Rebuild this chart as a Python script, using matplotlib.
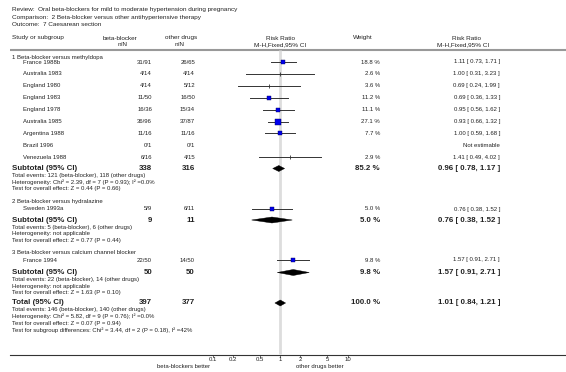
import numpy as np
import matplotlib
matplotlib.use("Agg")
import matplotlib.pyplot as plt
from matplotlib.patches import Polygon

# ---------------- data ----------------
review = "Review:  Oral beta-blockers for mild to moderate hypertension during pregnancy"
comparison = "Comparison:  2 Beta-blocker versus other antihypertensive therapy"
outcome = "Outcome:  7 Caesarean section"

group_titles = ["1 Beta-blocker versus methyldopa",
                "2 Beta-blocker versus hydralazine",
                "3 Beta-blocker versus calcium channel blocker"]

g1_studies = ["France 1988b", "Australia 1983", "England 1980", "England 1983",
              "England 1978", "Australia 1985", "Argentina 1988", "Brazil 1996", "Venezuela 1988"]
g1_bb = ["31/91", "4/14", "4/14", "11/50", "16/36", "36/96", "11/16", "0/1", "6/16"]
g1_oth = ["26/65", "4/14", "5/12", "16/50", "15/34", "37/87", "11/16", "0/1", "4/15"]
g1_rr = [1.11, 1.00, 0.69, 0.69, 0.95, 0.93, 1.00, np.nan, 1.41]
g1_lo = [0.73, 0.31, 0.24, 0.36, 0.56, 0.66, 0.59, np.nan, 0.49]
g1_hi = [1.71, 3.23, 1.99, 1.33, 1.62, 1.32, 1.68, np.nan, 4.02]
g1_w = [18.8, 2.6, 3.6, 11.2, 11.1, 27.1, 7.7, np.nan, 2.9]

g2_studies = ["Sweden 1993a"]
g2_bb = ["5/9"]
g2_oth = ["6/11"]
g2_rr = [0.76]
g2_lo = [0.38]
g2_hi = [1.52]
g2_w = [5.0]

g3_studies = ["France 1994"]
g3_bb = ["22/50"]
g3_oth = ["14/50"]
g3_rr = [1.57]
g3_lo = [0.91]
g3_hi = [2.71]
g3_w = [9.8]

sub_n_bb = [338, 9, 50]
sub_n_oth = [316, 11, 50]
sub_w = [85.2, 5.0, 9.8]
sub_rr = [0.96, 0.76, 1.57]
sub_lo = [0.78, 0.38, 0.91]
sub_hi = [1.17, 1.52, 2.71]
sub_notes = [
    ["Total events: 121 (beta-blocker), 118 (other drugs)",
     "Heterogeneity: Chi\u00b2 = 2.39, df = 7 (P = 0.93); I\u00b2 =0.0%",
     "Test for overall effect: Z = 0.44 (P = 0.66)"],
    ["Total events: 5 (beta-blocker), 6 (other drugs)",
     "Heterogeneity: not applicable",
     "Test for overall effect: Z = 0.77 (P = 0.44)"],
    ["Total events: 22 (beta-blocker), 14 (other drugs)",
     "Heterogeneity: not applicable",
     "Test for overall effect: Z = 1.63 (P = 0.10)"],
]

tot_n_bb = 397
tot_n_oth = 377
tot_w = 100.0
tot_rr = 1.01
tot_lo = 0.84
tot_hi = 1.21
tot_notes = ["Total events: 146 (beta-blocker), 140 (other drugs)",
             "Heterogeneity: Chi\u00b2 = 5.82, df = 9 (P = 0.76); I\u00b2 =0.0%",
             "Test for overall effect: Z = 0.07 (P = 0.94)",
             "Test for subgroup differences: Chi\u00b2 = 3.44, df = 2 (P = 0.18), I\u00b2 =42%"]

tick_vals = [0.1, 0.2, 0.5, 1, 2, 5, 10]
tick_labels = ["0.1", "0.2", "0.5", "1", "2", "5", "10"]
left_label = "beta-blockers better"
right_label = "other drugs better"

# ---------------- layout ----------------
W, H = 566, 372
fig = plt.figure(figsize=(W / 100, H / 100), dpi=100)
ax = fig.add_axes([0, 0, 1, 1])
ax.set_xlim(0, W)
ax.set_ylim(H, 0)
ax.axis("off")

# forest axes: x=1 at pixel 280, one decade = 67.5 px
fx0, fx1 = 180, 380
dec = 67.5
axf = fig.add_axes([fx0 / W, 0, (fx1 - fx0) / W, 1])
axf.set_xscale("log")
axf.set_xlim(10 ** ((fx0 - 280) / dec), 10 ** ((fx1 - 280) / dec))
axf.set_ylim(H, 0)
axf.axis("off")

FS = 4.3
FSB = 5.7
col = "#222222"
fam = "Liberation Sans"

def t(x, y, s, ha="left", fs=FS, bold=False, c=col):
    ax.text(x, y, s, ha=ha, va="center", fontsize=fs, color=c, family=fam,
            fontweight="bold" if bold else "normal")

t(12, 10, review, fs=4.6)
t(12, 17, comparison, fs=4.6)
t(12, 24, outcome, fs=4.6)

# headers
t(12, 38, "Study or subgroup", fs=4.6)
t(120, 38, "beta-blocker", ha="center", fs=4.6)
t(123, 45, "n/N", ha="center", fs=4.6)
t(181, 38, "other drugs", ha="center", fs=4.6)
t(180, 45, "n/N", ha="center", fs=4.6)
t(280, 38, "Risk Ratio", ha="center", fs=4.6)
t(280, 45, "M-H,Fixed,95% CI", ha="center", fs=4.6)
t(363, 38, "Weight", ha="center", fs=4.6)
t(466, 38, "Risk Ratio", ha="center", fs=4.6)
t(463, 45, "M-H,Fixed,95% CI", ha="center", fs=4.6)
ax.plot([10, W], [49.5, 49.5], color="#999999", lw=1.5, solid_capstyle="butt")

# vertical line at 1
axf.plot([1, 1], [50, 354], color="#dddddd", lw=2.0, zorder=0, solid_capstyle="butt")

XBB, XOTH, XW, XRR = 152, 195, 380, 500

def fmt_ci(r, lo, hi):
    return f"{r:.2f} [ {lo:.2f}, {hi:.2f} ]"

def study_row(y, name, bb, oth, rr, lo, hi, w):
    t(23, y, name)
    t(XBB, y, bb, ha="right")
    t(XOTH, y, oth, ha="right")
    if np.isnan(rr):
        t(XRR, y, "Not estimable", ha="right")
        return
    t(XW, y, f"{w:.1f} %", ha="right")
    t(XRR, y, fmt_ci(rr, lo, hi), ha="right")
    axf.plot([lo, hi], [y, y], color="#333333", lw=0.7, zorder=2)
    if w >= 4:
        size = max(0.83 * np.sqrt(w), 2.5)  # points
        axf.plot([rr], [y], marker="s", ms=size, mfc="#0000ee", mec="#000055",
                 mew=0.3, zorder=3)
    else:
        axf.plot([rr], [y], marker="|", ms=2.2, mec="#333333", mew=0.6, zorder=3)

def diamond(y, rr, lo, hi, h=3.0):
    poly = Polygon([[lo, y], [rr, y - h], [hi, y], [rr, y + h]], closed=True,
                   fc="black", ec="black", lw=0.3, zorder=3)
    axf.add_patch(poly)

def subtotal(y, label, nb, no, w, rr, lo, hi, notes):
    t(12, y, label, fs=FSB, bold=True)
    t(XBB, y, str(nb), ha="right", fs=FSB, bold=True)
    t(XOTH, y, str(no), ha="right", fs=FSB, bold=True)
    t(XW, y, f"{w:.1f} %", ha="right", fs=FSB, bold=True)
    t(XRR, y, fmt_ci(rr, lo, hi), ha="right", fs=FSB, bold=True)
    diamond(y, rr, lo, hi)
    for i, s in enumerate(notes):
        t(12, y + 7 + 6.6 * i, s)

# group 1
t(12, 57, group_titles[0])
y0 = 62
for i in range(len(g1_studies)):
    study_row(y0 + 11.9 * i, g1_studies[i], g1_bb[i], g1_oth[i],
              g1_rr[i], g1_lo[i], g1_hi[i], g1_w[i])
subtotal(168.5, "Subtotal (95% CI)", sub_n_bb[0], sub_n_oth[0], sub_w[0],
         sub_rr[0], sub_lo[0], sub_hi[0], sub_notes[0])

# group 2
t(12, 202, group_titles[1])
study_row(209, g2_studies[0], g2_bb[0], g2_oth[0], g2_rr[0], g2_lo[0], g2_hi[0], g2_w[0])
subtotal(220, "Subtotal (95% CI)", sub_n_bb[1], sub_n_oth[1], sub_w[1],
         sub_rr[1], sub_lo[1], sub_hi[1], sub_notes[1])

# group 3
t(12, 253, group_titles[2])
study_row(260, g3_studies[0], g3_bb[0], g3_oth[0], g3_rr[0], g3_lo[0], g3_hi[0], g3_w[0])
subtotal(272.5, "Subtotal (95% CI)", sub_n_bb[2], sub_n_oth[2], sub_w[2],
         sub_rr[2], sub_lo[2], sub_hi[2], sub_notes[2])

# total
subtotal(303, "Total (95% CI)", tot_n_bb, tot_n_oth, tot_w,
         tot_rr, tot_lo, tot_hi, tot_notes)

# bottom axis
ax.plot([10, W], [354.5, 354.5], color="#333333", lw=0.8)
for v, s in zip(tick_vals, tick_labels):
    axf.plot([v, v], [354.5, 356.5], color="#333333", lw=0.5)
    axf.text(v, 359.5, s, ha="center", va="center", fontsize=FS, color=col, family=fam)
t(184, 366.5, left_label, ha="center")
t(296, 366.5, right_label, ha="left")

fig.savefig("out.png", dpi=100)
